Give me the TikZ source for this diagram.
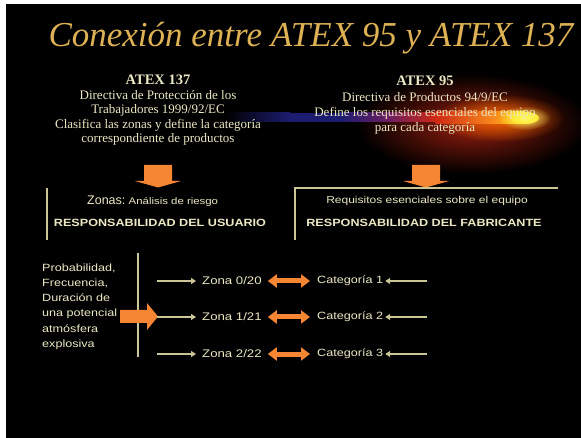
\documentclass[tikz,border=0pt]{standalone}
\usepackage{fontspec}
\usepackage{graphicx}
\setmainfont{Liberation Serif}
\newfontfamily\arial{Liberation Sans}[FakeStretch=1.2]
\newfontfamily\arialn{Liberation Sans}
\usetikzlibrary{arrows.meta,fadings}
\definecolor{cream}{RGB}{236,232,196}
\definecolor{gold}{RGB}{222,178,84}
\definecolor{orng}{RGB}{246,134,52}
\definecolor{linec}{RGB}{204,198,150}
\definecolor{navy}{RGB}{28,28,112}
\definecolor{purp}{RGB}{110,30,95}
\definecolor{cred}{RGB}{205,40,20}
\definecolor{corange}{RGB}{250,140,30}
\tikzfading[name=glowfade, inner color=transparent!0, outer color=transparent!100]
\begin{document}
\begin{tikzpicture}[x=1pt,y=-1pt,
  serif/.style={text=cream, align=center, inner sep=0pt},
  sans/.style={text=cream, inner sep=0pt, font=\arial\fontsize{11}{13}\selectfont},
  sansb/.style={text=cream, inner sep=0pt, font=\arial\bfseries\fontsize{10.5}{12}\selectfont},
  rulel/.style={draw=linec, line width=1.8pt},
  thinarr/.style={draw=linec, line width=1.6pt, -{Triangle[length=5pt,width=6pt]}},
  dblarr/.style={draw=orng, line width=5pt, {Triangle[length=9pt,width=13pt]}-{Triangle[length=9pt,width=13pt]}},
  blockarr/.style={fill=orng}
]
\useasboundingbox (0,0) rectangle (581,438);
\fill[white] (0,0) rectangle (581,438);
\fill[black] (6,4) rectangle (581,438);

% title
\node[text=gold, inner sep=0pt, anchor=base, font=\itshape\fontsize{35}{40}\selectfont] (title) at (311,47) {Conexión entre ATEX 95 y ATEX 137};

% comet
\fill[cred!75!black, path fading=glowfade] (472,124) ellipse [x radius=116, y radius=50];
\fill[orange!85!red, path fading=glowfade] (500,118) ellipse [x radius=64, y radius=24];
\shade[left color=black, right color=navy] (225,113) rectangle (290,122);
\fill[navy] (290,113) rectangle (340,122);
\shade[left color=navy, right color=purp] (340,113) rectangle (390,122);
\shade[left color=purp, right color=cred] (390,113) rectangle (435,122);
\shade[left color=cred, right color=corange] (435,112) rectangle (495,124);
\shade[left color=corange, right color=yellow!80!orange] (495,112) rectangle (525,124);
\fill[yellow!80!orange] (525,118) ellipse [x radius=14, y radius=6];
\fill[yellow!60!white, path fading=glowfade] (525,118) ellipse [x radius=26, y radius=12];

% top blocks
\node[serif, anchor=north, font=\fontsize{13}{14.5}\selectfont] (l137) at (158,75) {{\bfseries\fontsize{14.5}{14.5}\selectfont ATEX 137}\\Directiva de Protección de los\\Trabajadores 1999/92/EC\\Clasifica las zonas y define la categoría\\correspondiente de productos};
\node[serif, anchor=north, font=\fontsize{13}{15.3}\selectfont] (r95) at (425,76) {{\bfseries\fontsize{14.5}{14.5}\selectfont ATEX 95}\\Directiva de Productos 94/9/EC\\Define los requisitos esenciales del equipo\\para cada categoría};

% down block arrows
\fill[blockarr] (144,165) -- (172,165) -- (172,181) -- (181,181) -- (158,187.5) -- (135,181) -- (144,181) -- cycle;
\fill[blockarr] (412,165) -- (440,165) -- (440,181) -- (449,181) -- (426,187.5) -- (403,181) -- (412,181) -- cycle;

% rules
\draw[rulel] (47,188) -- (47,240);
\draw[rulel] (295,240) -- (295,188) -- (558,188);

% middle texts
\node[anchor=base west, text=cream, inner sep=0pt] (zonas) at (87,205) {{\arialn\fontsize{12.5}{14}\selectfont Zonas:} {\arial\fontsize{9.5}{11}\selectfont Análisis de riesgo}};
\node[sansb, anchor=base] (usu) at (160,227) {RESPONSABILIDAD DEL USUARIO};
\node[sans, font=\arial\fontsize{10}{12}\selectfont, anchor=base] (req) at (427,204) {Requisitos esenciales sobre el equipo};
\node[sansb, anchor=base] (fab) at (424,227) {RESPONSABILIDAD DEL FABRICANTE};

% bottom
\draw[rulel] (138,253) -- (138,357);
\node[sans, font=\arial\fontsize{10.5}{15.2}\selectfont, align=left, anchor=north west] (prob) at (42,263.5) {Probabilidad,\\Frecuencia,\\Duración de\\una potencial\\atmósfera\\explosiva};
\fill[blockarr] (120,310) -- (147,310) -- (147,303) -- (158,316.5) -- (147,330) -- (147,323) -- (120,323) -- cycle;

\foreach \i/\y/\z/\c in {1/281/0\slash 20/1, 2/317/1\slash 21/2, 3/354/2\slash 22/3}{
  \coordinate (a\i) at (157,\y);
  \coordinate (b\i) at (427,\y);
  \node[sans, anchor=west] (z\i) at (202,\y) {Zona \z};
  \node[sans, font=\arial\fontsize{10.5}{12}\selectfont, anchor=west] (c\i) at (317,\y) {Categoría \c};
  \draw[thinarr, shorten >=6pt] (a\i) -- (z\i.west);
  \draw[thinarr, shorten >=2pt] (b\i) -- (c\i.east);
  \draw[dblarr, shorten <=6pt, shorten >=7pt] (z\i.east) -- (c\i.west);
}
\end{tikzpicture}
\end{document}
